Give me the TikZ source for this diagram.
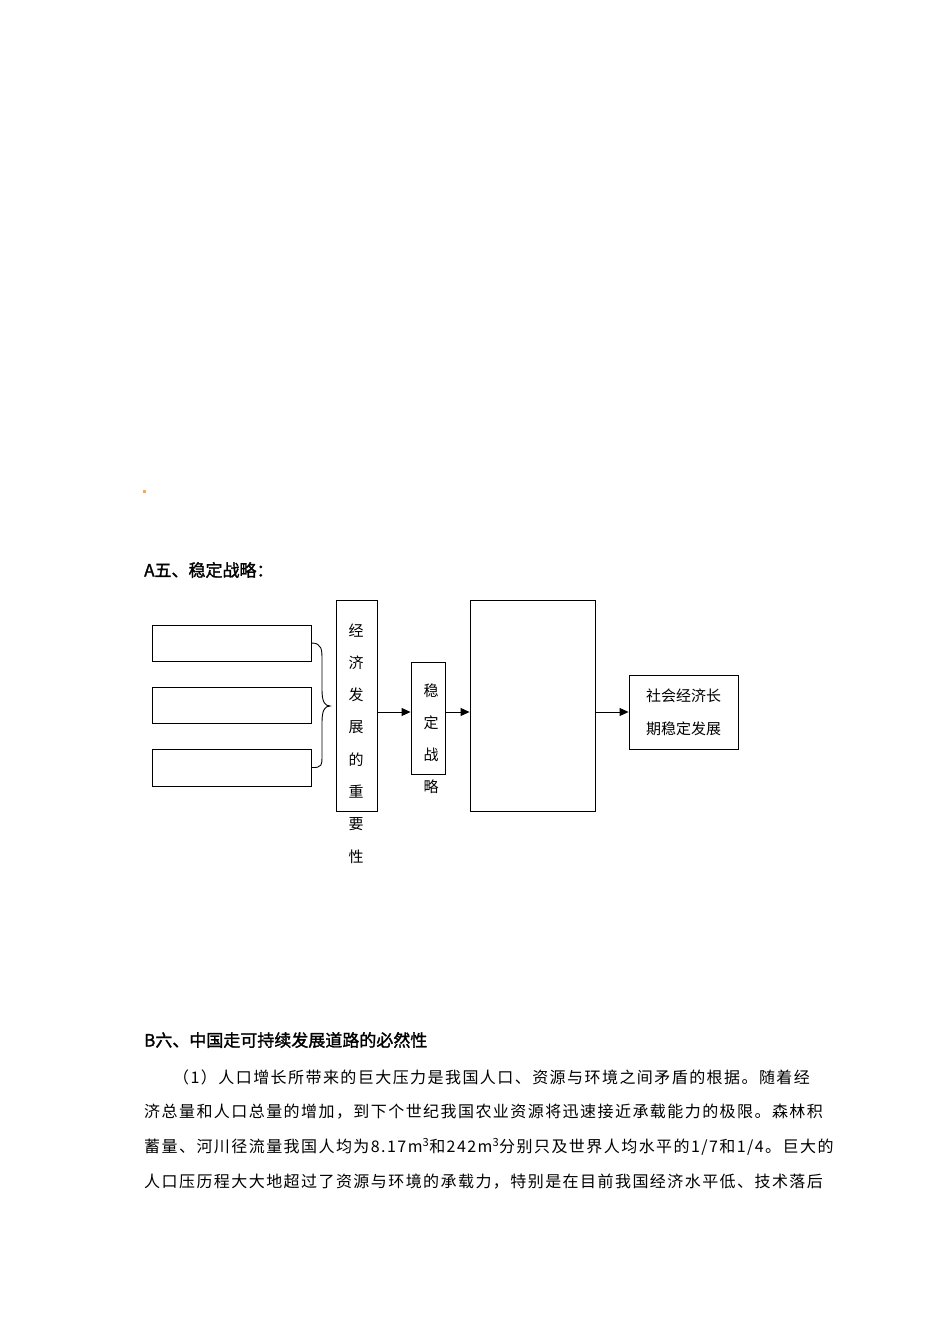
\documentclass[tikz,border=0pt]{standalone}
\usepackage{fontspec}
\newfontfamily\cjk{Noto Sans CJK SC}
\newfontfamily\cjkt[LetterSpace=9]{Noto Sans CJK SC}
\newfontfamily\cjkb[FakeBold=1.5]{Noto Sans CJK SC}
\usetikzlibrary{arrows.meta}
\begin{document}
\begin{tikzpicture}[x=1pt,y=-1pt,
  bx/.style={draw,line width=0.9pt,inner sep=0pt},
  ch/.style={font=\cjk\fontsize{15}{15}\selectfont,inner sep=0pt},
  arr/.style={-{Triangle[length=9pt,width=8pt]},line width=0.9pt},
  hd/.style={anchor=west,inner sep=0pt,font=\cjkb\fontsize{17}{17}\selectfont},
  ln/.style={anchor=west,inner sep=0pt,font=\cjkt\fontsize{16}{16}\selectfont}]
\useasboundingbox (0,0) rectangle (950,1344);
\fill[orange!70] (143,490) rectangle (146,493);
\node[hd] (h1) at (144,570) {A五、稳定战略：};
\node[bx,minimum width=159pt,minimum height=36pt] (b1) at (231.5,643) {};
\node[bx,minimum width=159pt,minimum height=36pt] (b2) at (231.5,705) {};
\node[bx,minimum width=159pt,minimum height=37pt] (b3) at (231.5,767.5) {};
\draw[line width=0.9pt] (b1.east) .. controls (322,643) and (322,650) .. (322,660) -- (322,690) .. controls (322,702) and (325,706) .. (330,706)
  .. controls (325,706) and (322,710) .. (322,722) -- (322,755) .. controls (322,765) and (322,768) .. (b3.east);
\node[bx,minimum width=41pt,minimum height=211pt] (t) at (356.5,705.5) {};
\foreach \c [count=\i] in {经,济,发,展,的,重,要,性}
  \node[ch] (t\i) at (356,598+32.3*\i) {\c};
\node[bx,minimum width=34pt,minimum height=112pt] (s) at (428,718) {};
\foreach \c [count=\i] in {稳,定,战,略}
  \node[ch] (s\i) at (431,659+32*\i) {\c};
\node[bx,minimum width=125pt,minimum height=211pt] (big) at (532.5,705.5) {};
\node[bx,minimum width=109pt,minimum height=74pt,align=center,font=\cjk\fontsize{15}{33}\selectfont] (r) at (683.5,712) {社会经济长\\期稳定发展};
\draw[arr] (t.east |- 0,712) coordinate (a1) -- (s.west |- a1);
\draw[arr] (s.east |- 0,712) coordinate (a2) -- (big.west |- a2);
\draw[arr] (big.east |- 0,712) coordinate (a3) -- (r.west |- a3);
\node[hd] (h2) at (144,1040) {B六、中国走可持续发展道路的必然性};
\node[ln] (l1) at (173,1077) {（1）人口增长所带来的巨大压力是我国人口、资源与环境之间矛盾的根据。随着经};
\node[ln] (l2) at (144,1112) {济总量和人口总量的增加，到下个世纪我国农业资源将迅速接近承载能力的极限。森林积};
\node[ln] (l3) at (144,1147) {蓄量、河川径流量我国人均为8.17m\textsuperscript{3}和242m\textsuperscript{3}分别只及世界人均水平的1/7和1/4。巨大的};
\node[ln] (l4) at (144,1182) {人口压历程大大地超过了资源与环境的承载力，特别是在目前我国经济水平低、技术落后};
\end{tikzpicture}
\end{document}
